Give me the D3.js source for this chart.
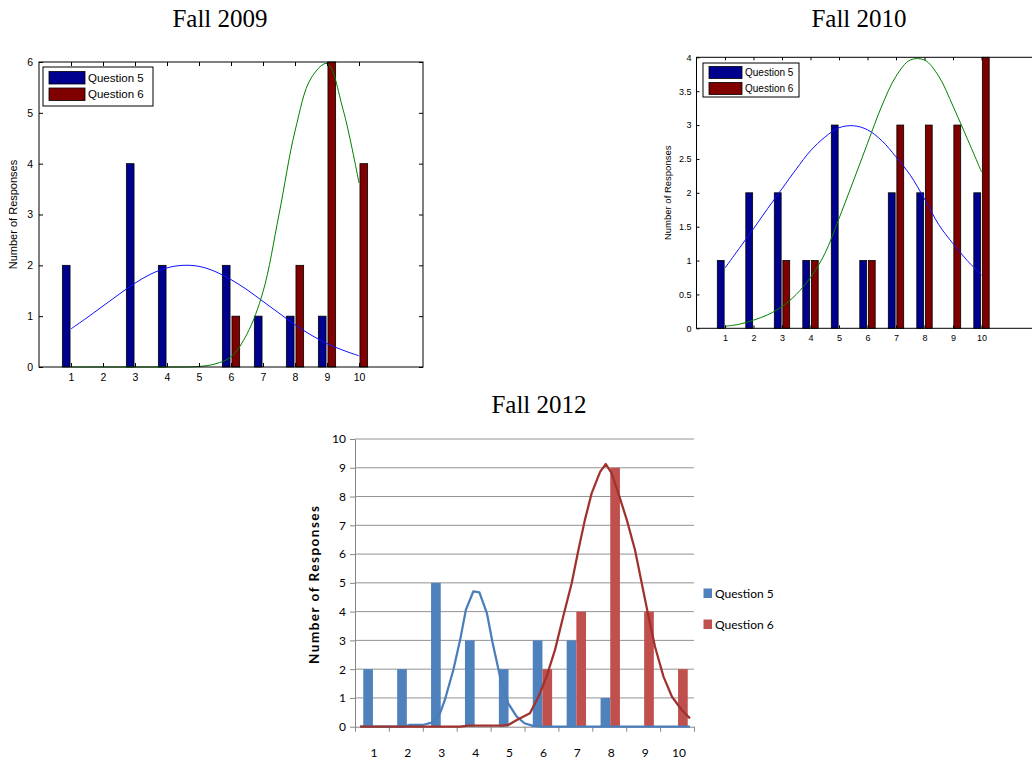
<!DOCTYPE html>
<html>
<head>
<meta charset="utf-8">
<script src="https://cdn.jsdelivr.net/npm/d3@7"></script>
<style>
  html, body { margin: 0; padding: 0; background: #fff; }
  svg { display: block; }
</style>
</head>
<body>
<svg id="chart" width="1032" height="760"></svg>
<script>
// Response scale (1 = lowest, 10 = highest)
const responses = [1, 2, 3, 4, 5, 6, 7, 8, 9, 10];

// Fall 2009 counts
const fall2009Q5 = [2, 0, 4, 2, 0, 2, 1, 1, 1, 0];
const fall2009Q6 = [0, 0, 0, 0, 0, 1, 0, 2, 6, 4];
// Fall 2010 counts
const fall2010Q5 = [1, 2, 2, 1, 3, 1, 2, 2, 0, 2];
const fall2010Q6 = [0, 0, 1, 1, 0, 1, 3, 3, 3, 4];
// Fall 2012 counts
const fall2012Q5 = [2, 2, 5, 3, 2, 3, 3, 1, 0, 0];
const fall2012Q6 = [0, 0, 0, 0, 0, 2, 4, 9, 4, 2];

// Fitted distribution curves, sampled every half step from 1 to 10
const fitX = [1, 1.5, 2, 2.5, 3, 3.5, 4, 4.5, 5, 5.5, 6, 6.5, 7, 7.5, 8, 8.5, 9, 9.5, 10];
const fit2009Q5 = [0.75, 0.97, 1.20, 1.43, 1.65, 1.83, 1.95, 2.0, 1.98, 1.88, 1.72, 1.52, 1.29, 1.06, 0.83, 0.63, 0.46, 0.33, 0.22];
const fit2009Q6 = [0, 0, 0, 0, 0, 0, 0, 0, 0.01, 0.06, 0.2, 0.65, 1.48, 3.0, 4.64, 5.68, 5.97, 5.07, 3.62];
const fit2010Q5 = [0.89, 1.18, 1.47, 1.77, 2.06, 2.35, 2.62, 2.82, 2.96, 2.99, 2.93, 2.77, 2.53, 2.26, 1.91, 1.53, 1.25, 1.0, 0.79];
const fit2010Q6 = [0.03, 0.06, 0.12, 0.2, 0.32, 0.5, 0.75, 1.1, 1.62, 2.17, 2.73, 3.28, 3.72, 3.96, 3.96, 3.72, 3.28, 2.8, 2.31];

// Fall 2012 trend lines (x in response units)
const trend2012Q5X = [0.65, 1.9, 2.1, 2.5, 2.76, 3.01, 3.15, 3.40, 3.60, 3.77, 3.99, 4.17, 4.39, 4.56, 4.78, 5.02, 5.27, 5.5, 5.75, 6.0, 10.38];
const trend2012Q5 = [0, 0, 0.06, 0.06, 0.14, 0.47, 0.93, 1.97, 3.01, 4.06, 4.70, 4.67, 3.95, 2.91, 1.74, 0.81, 0.35, 0.12, 0.03, 0, 0];
const trend2012Q6X = [0.65, 3.6, 3.85, 4.85, 5.02, 5.3, 5.66, 5.91, 6.15, 6.40, 6.64, 6.89, 7.09, 7.28, 7.48, 7.73, 7.90, 8.07, 8.27, 8.52, 8.76, 8.96, 9.16, 9.35, 9.60, 9.85, 10.14, 10.38];
const trend2012Q6 = [0, 0, 0.04, 0.04, 0.06, 0.25, 0.47, 1.04, 1.74, 2.67, 3.82, 4.98, 6.14, 7.18, 8.11, 8.86, 9.13, 8.81, 8.11, 7.18, 6.14, 4.98, 3.82, 2.78, 1.74, 1.04, 0.58, 0.29];

const seriesNames = ["Question 5", "Question 6"];
const ticks2009 = [0, 1, 2, 3, 4, 5, 6];
const ticks2010 = [0, 0.5, 1, 1.5, 2, 2.5, 3, 3.5, 4];
const ticks2012 = [0, 1, 2, 3, 4, 5, 6, 7, 8, 9, 10];

const svg = d3.select("#chart");
svg.append("rect").attr("width", 1032).attr("height", 760).attr("fill", "#fff");

const SANS = '"Liberation Sans", Arial, sans-serif';
const SERIF = '"Liberation Serif", "Times New Roman", serif';

function title(text, x, y) {
  svg.append("text").attr("x", x).attr("y", y)
    .attr("text-anchor", "middle")
    .attr("font-family", SERIF).attr("font-size", 25).attr("fill", "#000")
    .text(text);
}

// Boxed grouped-bar panel with fitted curves
function drawBoxPanel(o) {
  const x = d3.scaleLinear().domain([0, 12]).range([o.left, o.right]);
  const y = d3.scaleLinear().domain([0, o.yMax]).range([o.bottom, o.top]);
  const g = svg.append("g").attr("font-family", SANS);

  const bw = 0.24, off = 0.15;
  const colors = ["#00008f", "#800000"];
  [[o.q5, -off, colors[0]], [o.q6, off, colors[1]]].forEach(([vals, dx, fill]) => {
    g.append("g").selectAll("rect").data(responses).join("rect")
      .attr("x", d => x(d + dx - bw / 2))
      .attr("width", x(bw) - x(0))
      .attr("y", (d, i) => y(vals[i]))
      .attr("height", (d, i) => y(0) - y(vals[i]))
      .attr("fill", fill)
      .attr("stroke", "#000").attr("stroke-width", 0.8);
  });

  const line = d3.line().x((d, i) => x(fitX[i])).y(d => y(d)).curve(d3.curveCatmullRom);
  g.append("path").attr("d", line(o.fitQ5)).attr("fill", "none").attr("stroke", "#1010ff").attr("stroke-width", 1);
  g.append("path").attr("d", line(o.fitQ6)).attr("fill", "none").attr("stroke", "#008000").attr("stroke-width", 1);

  // frame
  g.append("rect").attr("x", o.left).attr("y", o.top)
    .attr("width", o.right - o.left).attr("height", o.bottom - o.top)
    .attr("fill", "none").attr("stroke", "#000").attr("stroke-width", 1);

  const fmt = d => String(d);
  const styleAxis = sel => {
    sel.select(".domain").remove();
    sel.selectAll("line").attr("stroke", "#000");
    sel.selectAll("text").attr("font-family", SANS).attr("font-size", o.fontSize).attr("fill", "#000");
  };
  g.append("g").attr("transform", `translate(0,${o.bottom})`)
    .call(d3.axisBottom(x).tickValues(responses).tickFormat(fmt).tickSizeInner(-o.tick).tickSizeOuter(0).tickPadding(o.xPad))
    .call(styleAxis);
  g.append("g").attr("transform", `translate(0,${o.top})`)
    .call(d3.axisTop(x).tickValues(responses).tickFormat("").tickSizeInner(-o.tick).tickSizeOuter(0))
    .call(styleAxis);
  g.append("g").attr("transform", `translate(${o.left},0)`)
    .call(d3.axisLeft(y).tickValues(o.yTicks).tickFormat(fmt).tickSizeInner(-o.tick).tickSizeOuter(0).tickPadding(o.yPad))
    .call(styleAxis);
  g.append("g").attr("transform", `translate(${o.right},0)`)
    .call(d3.axisRight(y).tickValues(o.yTicks).tickFormat("").tickSizeInner(-o.tick).tickSizeOuter(0))
    .call(styleAxis);

  // y label
  g.append("text")
    .attr("transform", `translate(${o.yLabelX},${(o.top + o.bottom) / 2}) rotate(-90)`)
    .attr("text-anchor", "middle").attr("font-size", o.yLabelSize).attr("fill", "#000")
    .text("Number of Responses");

  // legend
  const L = o.legend;
  g.append("rect").attr("x", L.x).attr("y", L.y).attr("width", L.w).attr("height", L.h)
    .attr("fill", "#fff").attr("stroke", "#000").attr("stroke-width", 1);
  seriesNames.forEach((name, i) => {
    const sy = L.y + L.pad + i * L.step;
    g.append("rect").attr("x", L.x + 6).attr("y", sy).attr("width", L.sw).attr("height", L.sh)
      .attr("fill", colors[i]).attr("stroke", "#000").attr("stroke-width", 0.8);
    g.append("text").attr("x", L.x + 9 + L.sw).attr("y", sy + L.sh / 2).attr("dy", "0.35em")
      .attr("font-size", L.fs).attr("fill", "#000").text(name);
  });
}

title("Fall 2009", 220, 27);
drawBoxPanel({
  left: 39, right: 423, top: 62, bottom: 367, yMax: 6, yTicks: ticks2009,
  q5: fall2009Q5, q6: fall2009Q6, fitQ5: fit2009Q5, fitQ6: fit2009Q6,
  fontSize: 10.5, tick: 4, xPad: 7, yPad: 6, yLabelX: 17, yLabelSize: 11,
  legend: { x: 43, y: 67, w: 110, h: 39, pad: 4.5, step: 16.5, sw: 36, sh: 12.5, fs: 11.5 }
});

title("Fall 2010", 859, 27);
drawBoxPanel({
  left: 696.5, right: 1038.5, top: 57.3, bottom: 328.3, yMax: 4, yTicks: ticks2010,
  q5: fall2010Q5, q6: fall2010Q6, fitQ5: fit2010Q5, fitQ6: fit2010Q6,
  fontSize: 9, tick: 3, xPad: 6, yPad: 5, yLabelX: 671, yLabelSize: 9.5,
  legend: { x: 703, y: 63, w: 96, h: 34, pad: 3.5, step: 16, sw: 33, sh: 12, fs: 10 }
});

// Fall 2012: clustered columns with trend lines
title("Fall 2012", 539, 413);
(function () {
  const LATO = 'Lato, "Open Sans", sans-serif';
  const g = svg.append("g").attr("font-family", LATO);
  const x = d3.scaleLinear().domain([0.5, 10.5]).range([355, 694]);
  const y = d3.scaleLinear().domain([0, 10]).range([726.7, 439]);
  const colors = ["#4f81bd", "#c0504d"];
  const bw = (x(1.5) - x(0.5)) / 3.5;

  // gridlines
  g.append("g").selectAll("line").data(ticks2012.slice(1)).join("line")
    .attr("x1", x(0.5)).attr("x2", x(10.5))
    .attr("y1", d => y(d)).attr("y2", d => y(d))
    .attr("stroke", "#929292").attr("stroke-width", 1);

  // columns
  [[fall2012Q5, -bw, colors[0]], [fall2012Q6, 0, colors[1]]].forEach(([vals, dx, fill]) => {
    g.append("g").selectAll("rect").data(responses.filter((d, i) => vals[i] > 0)).join("rect")
      .attr("x", d => x(d) + dx + 1)
      .attr("width", bw)
      .attr("y", d => y(vals[d - 1]))
      .attr("height", d => y(0) - y(vals[d - 1]))
      .attr("fill", fill);
  });

  // axes
  const styleAxis = sel => {
    sel.select(".domain").attr("stroke", "#868686");
    sel.selectAll("line").attr("stroke", "#868686");
    sel.selectAll("text").attr("font-family", LATO).attr("font-size", 12).attr("fill", "#000");
  };
  g.append("g").attr("transform", `translate(${x(0.5)},0)`)
    .call(d3.axisLeft(y).tickValues(ticks2012).tickFormat(d => String(d)).tickSizeInner(5).tickSizeOuter(0).tickPadding(4))
    .call(styleAxis);
  g.append("g").attr("transform", `translate(0,${y(0)})`)
    .call(d3.axisBottom(x).tickValues(d3.range(0.5, 11, 1)).tickFormat("").tickSizeInner(5).tickSizeOuter(0))
    .call(styleAxis);
  g.append("g").selectAll("text").data(responses).join("text")
    .attr("x", d => x(d) + 2).attr("y", 757).attr("text-anchor", "middle")
    .attr("font-size", 12).attr("fill", "#000").text(d => d);

  // trend lines
  const line = (xs) => d3.line().x((d, i) => x(xs[i])).y(d => y(d));
  g.append("path").attr("d", line(trend2012Q5X)(trend2012Q5))
    .attr("fill", "none").attr("stroke", "#4a7ebb").attr("stroke-width", 2.25).attr("stroke-linejoin", "round");
  g.append("path").attr("d", line(trend2012Q6X)(trend2012Q6))
    .attr("fill", "none").attr("stroke", "#a0322e").attr("stroke-width", 2.25).attr("stroke-linejoin", "round");

  // y label
  g.append("text")
    .attr("transform", `translate(319,585) rotate(-90)`)
    .attr("text-anchor", "middle").attr("font-size", 13.5).attr("font-weight", "bold").attr("fill", "#000")
    .attr("textLength", 158).attr("lengthAdjust", "spacing")
    .text("Number of Responses");

  // legend
  seriesNames.forEach((name, i) => {
    const sy = 588.5 + i * 31;
    g.append("rect").attr("x", 703.5).attr("y", sy).attr("width", 8.5).attr("height", 9.5).attr("fill", colors[i]);
    g.append("text").attr("x", 715).attr("y", sy + 5).attr("dy", "0.35em")
      .attr("font-size", 12).attr("fill", "#000").text(name);
  });
})();
</script>
</body>
</html>
